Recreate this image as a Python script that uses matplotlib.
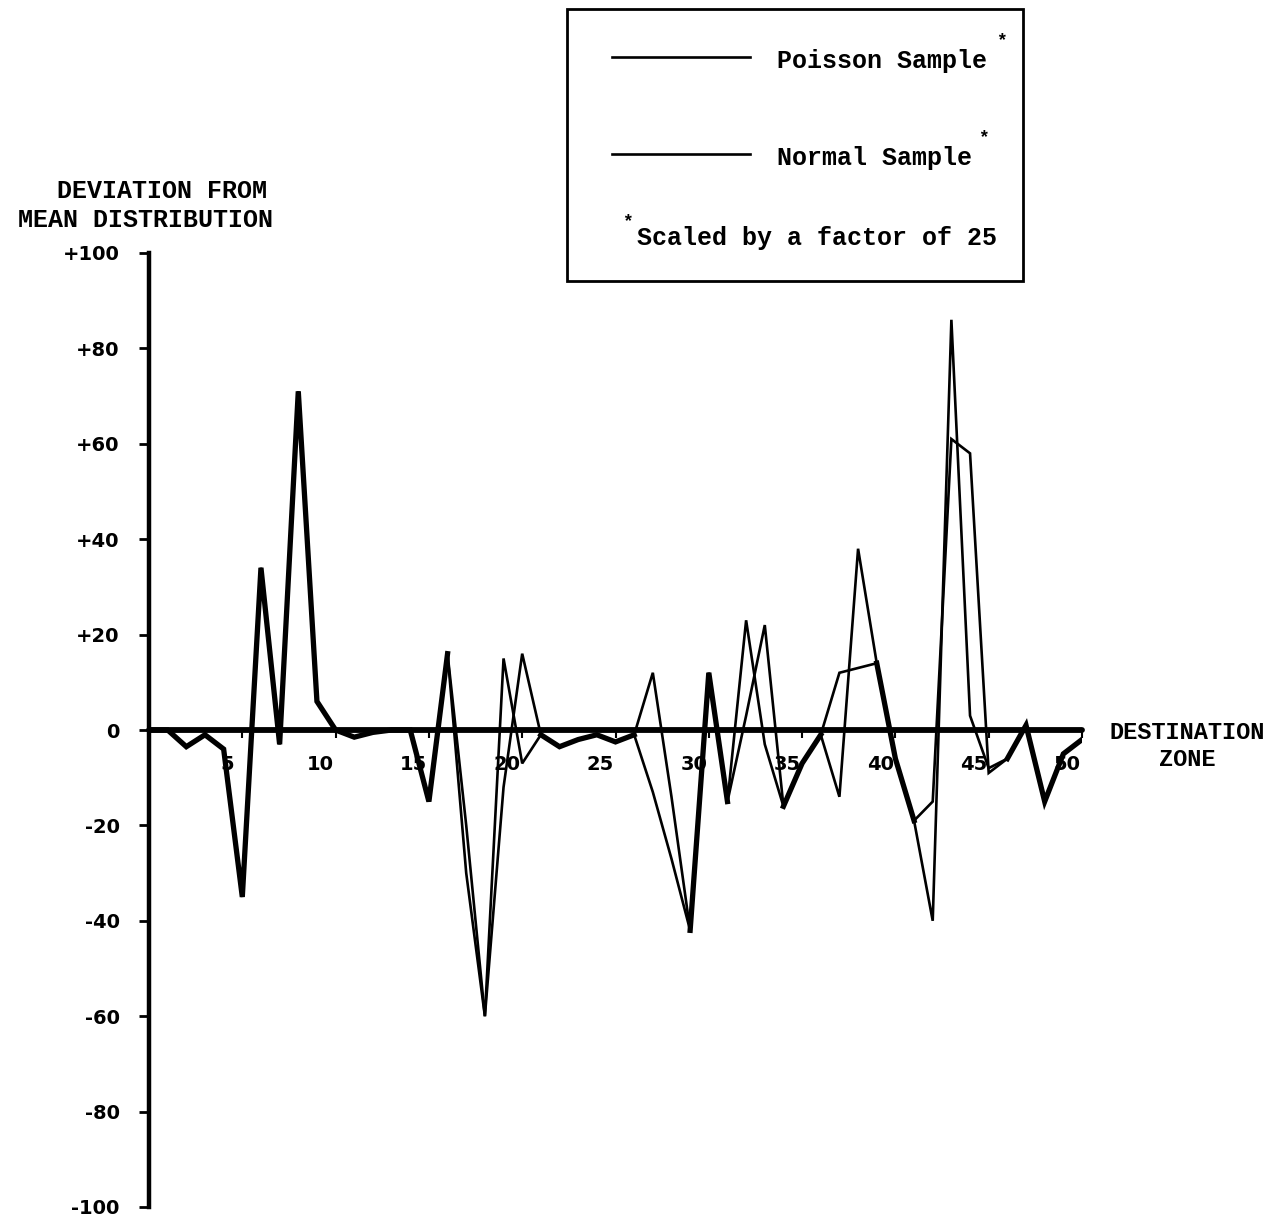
import matplotlib
matplotlib.use("Agg")
import matplotlib.pyplot as plt
import numpy as np
from matplotlib.lines import Line2D
from matplotlib.patches import Rectangle
from matplotlib.transforms import ScaledTranslation

# deviation from the mean distribution per destination zone (scaled by 25)
zones = np.arange(0, 51)
poisson = [0, 0, -3.5, -1, -4, -35, 34, -3, 71, 6,
           0, -1.5, -0.5, 0, 0, -15, 16, -30, -60, 15,
           -7, -1, -3.5, -2, -1, -2.5, -1, 12, -14, -42,
           12, -15, 23, -3, -16, -7, -1, -14, 38, 14,
           -6, -19, -40, 86, 3, -8, -6, 1, -15, -5,
           -2]
normal = [0, 0, -3.5, -1, -4, -35, 34, -3, 71, 6,
          0, -1.5, -0.5, 0, 0, -15, 16, -20, -60, -12,
          16, -1, -3.5, -2, -1, -2.5, -1, -13, -27, -42,
          12, -15, 3, 22, -16, -7, -1, 12, 13, 14,
          -6, -19, -15, 61, 58, -9, -6, 1, -15, -5,
          -2]

y_ticks = [100, 80, 60, 40, 20, 0, -20, -40, -60, -80, -100]
y_labels = ["+100", "+80", "+60", "+40", "+20", "0",
            "-20", "-40", "-60", "-80", "-100"]
x_ticks = [5, 10, 15, 20, 25, 30, 35, 40, 45, 50]

mono = "Liberation Mono"

fig = plt.figure(figsize=(12.81, 12.24), dpi=100)
W, H = 1281, 1224
ax = fig.add_axes([149 / W, 1 - 1207 / H, (1082 - 149) / W, (1207 - 253) / H])

p = np.array(poisson, dtype=float)
n = np.array(normal, dtype=float)

ax.plot(zones, p, color="black", lw=1.9, solid_joinstyle="miter")
ax.plot(zones, n, color="black", lw=1.9, solid_joinstyle="miter")
# where both samples agree the trace is drawn heavy
same = np.where(np.isclose(p, n), p, np.nan)
ax.plot(zones, same, color="black", lw=3.8, solid_joinstyle="miter")

ax.set_xlim(0, 50)
ax.set_ylim(-100, 100)

for s in ["top", "right"]:
    ax.spines[s].set_visible(False)
ax.spines["left"].set_linewidth(3.2)
ax.spines["bottom"].set_position(("data", 0))
ax.spines["bottom"].set_linewidth(4.2)
ax.spines["bottom"].set_capstyle("round")

ax.set_yticks(y_ticks)
ax.set_yticklabels(y_labels, fontsize=14, family="DejaVu Sans", weight="bold")
ax.tick_params(axis="y", direction="out", length=7, width=2, pad=14)

ax.set_xticks(x_ticks)
ax.set_xticklabels([str(v) for v in x_ticks], fontsize=14, family="DejaVu Sans",
                   weight="bold")
ax.tick_params(axis="x", direction="out", length=6, width=1.5, pad=12)
shift = ScaledTranslation(-15 / 100, 0, fig.dpi_scale_trans)
for lab in ax.get_xticklabels():
    lab.set_transform(lab.get_transform() + shift)

# axis titles
fig.text(162 / W, 1 - 191 / H, "DEVIATION FROM", ha="center", va="center",
         family=mono, weight="bold", fontsize=18)
fig.text(145 / W, 1 - 220 / H, "MEAN DISTRIBUTION", ha="center", va="center",
         family=mono, weight="bold", fontsize=18)
fig.text(1187 / W, 1 - 746 / H, "DESTINATION\nZONE",
         ha="center", va="center", family=mono, weight="bold",
         fontsize=17, linespacing=1.25)

# key box
fig.add_artist(Rectangle((567 / W, 1 - 281 / H), (1023 - 567) / W, (281 - 9) / H,
                         transform=fig.transFigure, fill=False,
                         edgecolor="black", lw=2))
for yy, label, star_x in [(57, "Poisson Sample", 1002), (154, "Normal Sample", 983)]:
    fig.add_artist(Line2D([612 / W, 750 / W], [1 - yy / H, 1 - yy / H],
                          transform=fig.transFigure, color="black", lw=1.9))
    fig.text(777 / W, 1 - (yy + 4) / H, label, ha="left", va="center",
             family=mono, weight="bold", fontsize=18)
    fig.text(star_x / W, 1 - (yy - 16) / H, "*", ha="center", va="center",
             family=mono, weight="bold", fontsize=13)
fig.text(628 / W, 1 - 222 / H, "*", ha="center", va="center",
         family=mono, weight="bold", fontsize=13)
fig.text(637 / W, 1 - 238 / H, "Scaled by a factor of 25", ha="left", va="center",
         family=mono, weight="bold", fontsize=18)

fig.savefig("out.png", dpi=100, facecolor="white")
